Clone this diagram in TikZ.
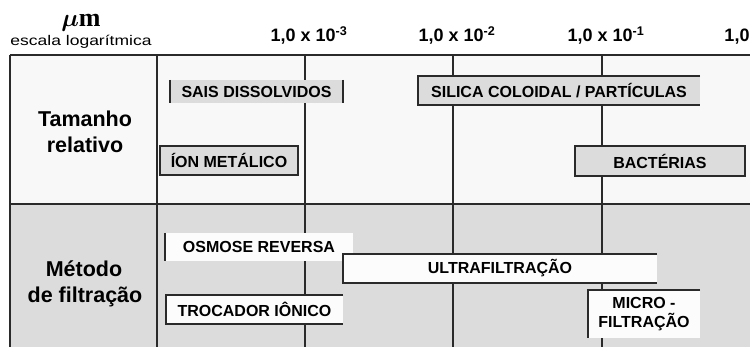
\documentclass[tikz,border=0pt]{standalone}
\usepackage{fontspec}
\setmainfont{Liberation Sans}
\newfontfamily\serifface{Liberation Serif}
\definecolor{upperbg}{HTML}{F8F8F8}
\definecolor{lowerbg}{HTML}{DCDCDC}
\definecolor{boxgray}{HTML}{DCDCDC}
\definecolor{boxwhite}{HTML}{FCFCFC}
\definecolor{linec}{HTML}{2A2A2A}
\begin{document}
\begin{tikzpicture}[x=1pt,y=-1pt,
  gridline/.style={line width=1.2pt, draw=linec},
  border/.style={line width=1.3pt, draw=linec},
  boxtext/.style={inner sep=0pt, outer sep=0pt, font=\fontsize{16}{16}\selectfont\bfseries},
  graybox/.style={boxtext, fill=boxgray},
  whitebox/.style={boxtext, fill=boxwhite},
  headnum/.style={anchor=base, inner sep=0pt, font=\fontsize{18}{18}\selectfont\bfseries},
  sidelabel/.style={anchor=base, inner sep=0pt, font=\fontsize{21.5}{21.5}\selectfont\bfseries}]
\useasboundingbox (0,0) rectangle (753,347);
% backgrounds
\fill[white] (0,0) rectangle (753,347);
\fill[upperbg] (10,55) rectangle (750,204);
\fill[lowerbg] (10,204) rectangle (750,347);
% grid
\coordinate (tl) at (10,55);
\coordinate (tr) at (750,55);
\coordinate (bl) at (10,347);
\coordinate (ml) at (10,204);
\coordinate (mr) at (750,204);
\coordinate (c1t) at (157,55);
\coordinate (c1b) at (157,347);
\coordinate (g1t) at (305,55);
\coordinate (g1b) at (305,347);
\coordinate (g2t) at (453,55);
\coordinate (g2b) at (453,347);
\coordinate (g3t) at (602,55);
\coordinate (g3b) at (602,347);
\draw[gridline] (tl) -- (tr);
\draw[gridline] (ml) -- (mr);
\draw[gridline] (tl) -- (bl);
\draw[gridline] (c1t) -- (c1b);
\draw[gridline] (g1t) -- (g1b);
\draw[gridline] (g2t) -- (g2b);
\draw[gridline] (g3t) -- (g3b);
% header
\node[anchor=base, inner sep=0pt, font=\fontsize{26}{26}\selectfont] (mu) at (81,27) {{\boldmath$\mu$}{\serifface\bfseries m}};
\node[anchor=base, inner sep=0pt, font=\fontsize{14}{14}\selectfont] (esc) at (81,46) {\scalebox{1.25}[1]{escala logarítmica}};
\node[headnum] (h3) at (309,42) {1,0 x 10\textsuperscript{-3}};
\node[headnum] (h2) at (457,42) {1,0 x 10\textsuperscript{-2}};
\node[headnum] (h1) at (606,42) {1,0 x 10\textsuperscript{-1}};
\node[headnum] (h0) at (737,42) {1,0};
% side labels
\node[sidelabel] (tam1) at (85,127) {Tamanho};
\node[sidelabel] (tam2) at (85,153) {relativo};
\node[sidelabel] (met1) at (84,277) {Método};
\node[sidelabel] (met2) at (85,303) {de filtração};
% size boxes
\node[graybox, minimum width=173pt, minimum height=23pt] (sais) at (256.5,91.5) {SAIS DISSOLVIDOS};
\draw[border] (sais.north west) -- (sais.south west);
\draw[border] (sais.north east) -- (sais.south east);
\node[graybox, minimum width=282pt, minimum height=29pt] (silica) at (559,90.5) {SILICA COLOIDAL / PARTÍCULAS};
\draw[border] (silica.north east) -- (silica.north west) -- (silica.south west) -- (silica.south east);
\node[graybox, minimum width=138pt, minimum height=29pt] (ion) at (229,160.5) {ÍON METÁLICO};
\draw[border] (ion.north west) rectangle (ion.south east);
\node[graybox, minimum width=170pt, minimum height=30pt] (bact) at (660,161) {BACTÉRIAS};
\draw[border] (bact.north west) rectangle (bact.south east);
% filtration boxes
\node[whitebox, minimum width=188pt, minimum height=28pt] (osm) at (259,247) {OSMOSE REVERSA};
\draw[border] (osm.north west) -- (osm.south west);
\node[whitebox, minimum width=314pt, minimum height=29pt] (ultra) at (500,268.5) {ULTRAFILTRAÇÃO};
\draw[border] (ultra.north east) -- (ultra.north west) -- (ultra.south west) -- (ultra.south east);
\node[whitebox, minimum width=177pt, minimum height=29pt] (troc) at (254.5,309.5) {TROCADOR IÔNICO};
\draw[border] (troc.north east) -- (troc.north west) -- (troc.south west) -- (troc.south east);
\node[whitebox, minimum width=112pt, minimum height=48pt, align=center, font=\fontsize{16}{19}\selectfont\bfseries] (micro) at (644,314) {MICRO -\\FILTRAÇÃO};
\draw[border] (micro.north east) -- (micro.north west) -- (micro.south west);
\end{tikzpicture}
\end{document}
